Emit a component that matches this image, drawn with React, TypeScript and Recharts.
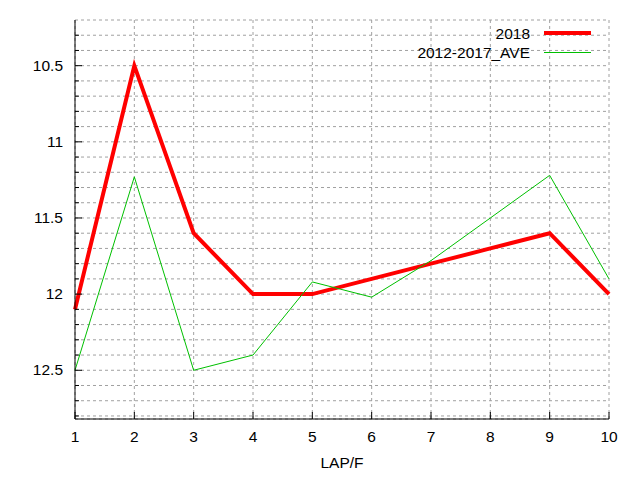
import React from 'react';
import {
  LineChart,
  Line,
  XAxis,
  YAxis,
  CartesianGrid,
} from 'recharts';

const laps = [1, 2, 3, 4, 5, 6, 7, 8, 9, 10];
const lap2018 = [12.1, 10.5, 11.6, 12.0, 12.0, 11.9, 11.8, 11.7, 11.6, 12.0];
const lapAve = [12.5, 11.23, 12.5, 12.4, 11.92, 12.02, 11.78, 11.5, 11.22, 11.9];
const yTicks = [
  10.3, 10.4, 10.5, 10.6, 10.7, 10.8, 10.9, 11, 11.1, 11.2, 11.3, 11.4, 11.5,
  11.6, 11.7, 11.8, 11.9, 12, 12.1, 12.2, 12.3, 12.4, 12.5, 12.6, 12.7, 12.8,
];
const xTicks = [1, 2, 3, 4, 5, 6, 7, 8, 9, 10];
const seriesNames = ['2018', '2012-2017_AVE'];

const data = laps.map((lap, i) => ({ lap, y2018: lap2018[i], ave: lapAve[i] }));

const FONT = '"Liberation Sans", Arial, sans-serif';
const FS = 15.5;
const isMajor = (v: number) => Math.abs(v * 2 - Math.round(v * 2)) < 1e-6;

const LeftTick = (props: any) => {
  const { x, y, payload } = props;
  const major = isMajor(payload.value);
  return (
    <g>
      <line x1={x} x2={x + (major ? 7 : 4)} y1={y} y2={y} stroke="#000" />
      {major && (
        <text x={x - 12} y={y} dy={5} textAnchor="end" fontSize={FS} fontFamily={FONT} fill="#000">
          {String(payload.value)}
        </text>
      )}
    </g>
  );
};

const RightTick = (props: any) => {
  const { x, y, payload } = props;
  const major = isMajor(payload.value);
  return <line x1={x} x2={x - (major ? 7 : 4)} y1={y} y2={y} stroke="#000" />;
};

const BottomTick = (props: any) => {
  const { x, y, payload } = props;
  return (
    <g>
      <line x1={x} x2={x} y1={y} y2={y - 7} stroke="#000" />
      <text x={x} y={y + 23} textAnchor="middle" fontSize={FS} fontFamily={FONT} fill="#000">
        {String(payload.value)}
      </text>
    </g>
  );
};

const TopTick = (props: any) => {
  const { x, y } = props;
  return <line x1={x} x2={x} y1={y} y2={y + 7} stroke="#000" />;
};

const KeyBox = () => (
  <div
    style={{
      position: 'absolute',
      top: 23.5,
      right: 49,
      fontFamily: FONT,
      fontSize: FS,
      color: '#000',
      lineHeight: '19px',
    }}
  >
    {[
      { name: seriesNames[0], color: '#ff0000', w: 4 },
      { name: seriesNames[1], color: '#00c000', w: 1 },
    ].map((item) => (
      <div key={item.name} style={{ display: 'flex', alignItems: 'center', justifyContent: 'flex-end' }}>
        <span>{item.name}</span>
        <span
          style={{
            display: 'inline-block',
            width: 47,
            height: item.w,
            background: item.color,
            marginLeft: 14,
          }}
        />
      </div>
    ))}
  </div>
);

export default function App() {
  return (
    <div style={{ position: 'relative', width: 640, height: 480, background: '#fff', fontFamily: FONT }}>
      <style>{'body{margin:0}'}</style>
      <LineChart
        width={640}
        height={480}
        data={data}
        margin={{ top: 20, right: 31, left: 15, bottom: 31 }}
      >
        <CartesianGrid stroke="#a0a0a0" strokeDasharray="3 3" />
        <XAxis
          dataKey="lap"
          type="number"
          domain={[1, 10]}
          ticks={xTicks}
          height={30}
          tickSize={0}
          tickMargin={0}
          tickLine={false}
          axisLine={{ stroke: '#000' }}
          tick={<BottomTick />}
          interval={0}
          label={{ value: 'LAP/F', position: 'bottom', offset: 8, fill: '#000', fontSize: FS }}
        />
        <XAxis
          xAxisId="top"
          orientation="top"
          dataKey="lap"
          type="number"
          domain={[1, 10]}
          ticks={xTicks}
          height={0}
          tickSize={0}
          tickMargin={0}
          tickLine={false}
          axisLine={{ stroke: '#000' }}
          tick={<TopTick />}
          interval={0}
        />
        <YAxis
          reversed
          type="number"
          domain={[10.2, 12.82]}
          ticks={yTicks}
          width={60}
          tickSize={0}
          tickMargin={0}
          tickLine={false}
          axisLine={{ stroke: '#000' }}
          tick={<LeftTick />}
          interval={0}
          allowDataOverflow
        />
        <YAxis
          yAxisId="right"
          orientation="right"
          reversed
          type="number"
          domain={[10.2, 12.82]}
          ticks={yTicks}
          width={0}
          tickSize={0}
          tickMargin={0}
          tickLine={false}
          axisLine={{ stroke: '#000' }}
          tick={<RightTick />}
          interval={0}
          allowDataOverflow
        />
        <Line
          type="linear"
          dataKey="y2018"
          name={seriesNames[0]}
          stroke="#ff0000"
          strokeWidth={4}
          dot={false}
          isAnimationActive={false}
        />
        <Line
          type="linear"
          dataKey="ave"
          name={seriesNames[1]}
          stroke="#00c000"
          strokeWidth={1}
          dot={false}
          isAnimationActive={false}
        />
      </LineChart>
      <KeyBox />
    </div>
  );
}
